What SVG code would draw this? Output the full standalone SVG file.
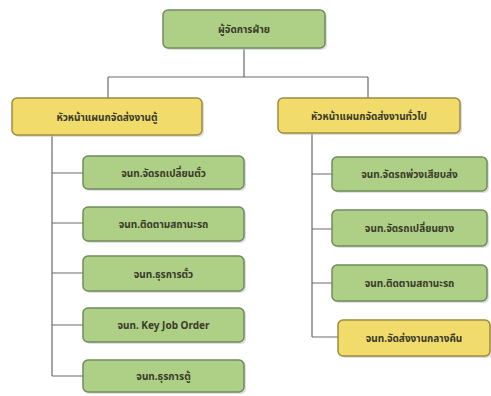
<svg xmlns="http://www.w3.org/2000/svg" width="491" height="396" viewBox="0 0 491 396">
<style>
.g{fill:#aed086;stroke:#6f8a5c;stroke-width:1.5}
.y{fill:#f1dc6b;stroke:#9e8a3e;stroke-width:1.5}
.sh{fill:#c9c9c9;opacity:0.6}
.t{font-family:"Noto Sans","Noto Sans Thai","DejaVu Sans",sans-serif;font-size:10px;font-weight:bold;fill:#3a3a2a;text-anchor:middle;dominant-baseline:central}
.c{stroke:#6a6a6a;stroke-width:1.2;fill:none}
</style>
<rect width="491" height="396" fill="#ffffff"/>
<g id="connectors">
<path class="c" d="M244 48V77M108 77H368M108 77V98M368 77V98"/>
<path class="c" d="M52 135V376M52 173H83M52 223H83M52 273H83M52 325H83M52 376H83"/>
<path class="c" d="M312 133V337M312 174H332M312 229H332M312 283H332M312 337H338"/>
</g>
<g id="n0"><rect class="sh" x="165" y="12" width="162" height="38" rx="5"/><rect class="g" x="163" y="10" width="162" height="38" rx="5"/><text class="t" x="244" y="29">ผู้จัดการฝ่าย</text></g>
<g id="n1"><rect class="sh" x="14" y="100" width="190" height="37" rx="5"/><rect class="y" x="12" y="98" width="190" height="37" rx="5"/><text class="t" x="107" y="116.5">หัวหน้าแผนกจัดส่งงานตู้</text></g>
<g id="n2"><rect class="sh" x="280" y="100" width="182" height="35" rx="5"/><rect class="y" x="278" y="98" width="182" height="35" rx="5"/><text class="t" x="369" y="115.5">หัวหน้าแผนกจัดส่งงานทั่วไป</text></g>
<g id="n3"><rect class="sh" x="85" y="158" width="161" height="33" rx="5"/><rect class="g" x="83" y="156" width="161" height="33" rx="5"/><text class="t" x="163.5" y="172.5">จนท.จัดรถเปลี่ยนตั๋ว</text></g>
<g id="n4"><rect class="sh" x="85" y="209" width="161" height="34" rx="5"/><rect class="g" x="83" y="207" width="161" height="34" rx="5"/><text class="t" x="163.5" y="224">จนท.ติดตามสถานะรถ</text></g>
<g id="n5"><rect class="sh" x="85" y="258" width="161" height="35" rx="5"/><rect class="g" x="83" y="256" width="161" height="35" rx="5"/><text class="t" x="163.5" y="273.5">จนท.ธุรการตั๋ว</text></g>
<g id="n6"><rect class="sh" x="85" y="310" width="161" height="34" rx="5"/><rect class="g" x="83" y="308" width="161" height="34" rx="5"/><text class="t" x="163.5" y="325">จนท. Key Job Order</text></g>
<g id="n7"><rect class="sh" x="85" y="362" width="161" height="32" rx="5"/><rect class="g" x="83" y="360" width="161" height="32" rx="5"/><text class="t" x="163.5" y="376">จนท.ธุรการตู้</text></g>
<g id="n8"><rect class="sh" x="334" y="159" width="155" height="34" rx="5"/><rect class="g" x="332" y="157" width="155" height="34" rx="5"/><text class="t" x="409.5" y="174">จนท.จัดรถพ่วงเสียบส่ง</text></g>
<g id="n9"><rect class="sh" x="334" y="212" width="155" height="36" rx="5"/><rect class="g" x="332" y="210" width="155" height="36" rx="5"/><text class="t" x="409.5" y="228">จนท.จัดรถเปลี่ยนยาง</text></g>
<g id="n10"><rect class="sh" x="334" y="267" width="155" height="36" rx="5"/><rect class="g" x="332" y="265" width="155" height="36" rx="5"/><text class="t" x="409.5" y="283">จนท.ติดตามสถานะรถ</text></g>
<g id="n11"><rect class="sh" x="340" y="322" width="152" height="36" rx="5"/><rect class="y" x="338" y="320" width="152" height="36" rx="5"/><text class="t" x="414" y="338">จนท.จัดส่งงานกลางคืน</text></g>
</svg>
